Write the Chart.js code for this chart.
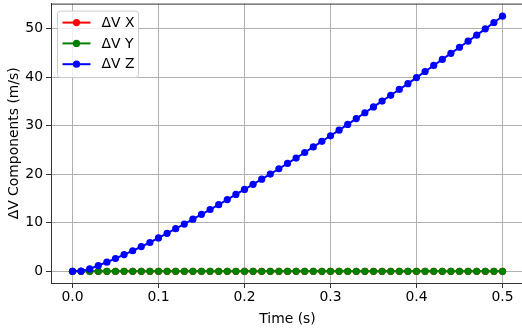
<!DOCTYPE html>
<html lang="en">
<head>
  <meta charset="UTF-8" />
  <title>ΔV Components</title>
  <style>
    html, body {
      margin: 0;
      padding: 0;
      overflow: hidden;
      background: #fff;
    }
    canvas {
      display: block;
    }
  </style>
</head>
<body>
  <canvas id="dvChart" width="530" height="329"></canvas>

  <script src="https://cdn.jsdelivr.net/npm/chart.js"></script>
  <script>
    // Time samples (s)
    const times = [
      0.00, 0.01, 0.02, 0.03, 0.04, 0.05, 0.06, 0.07, 0.08, 0.09,
      0.10, 0.11, 0.12, 0.13, 0.14, 0.15, 0.16, 0.17, 0.18, 0.19,
      0.20, 0.21, 0.22, 0.23, 0.24, 0.25, 0.26, 0.27, 0.28, 0.29,
      0.30, 0.31, 0.32, 0.33, 0.34, 0.35, 0.36, 0.37, 0.38, 0.39,
      0.40, 0.41, 0.42, 0.43, 0.44, 0.45, 0.46, 0.47, 0.48, 0.49,
      0.50
    ];

    // ΔV components (m/s)
    const dvX = [
      0, 0, 0, 0, 0, 0, 0, 0, 0, 0,
      0, 0, 0, 0, 0, 0, 0, 0, 0, 0,
      0, 0, 0, 0, 0, 0, 0, 0, 0, 0,
      0, 0, 0, 0, 0, 0, 0, 0, 0, 0,
      0, 0, 0, 0, 0, 0, 0, 0, 0, 0,
      0
    ];
    const dvY = [
      0, 0, 0, 0, 0, 0, 0, 0, 0, 0,
      0, 0, 0, 0, 0, 0, 0, 0, 0, 0,
      0, 0, 0, 0, 0, 0, 0, 0, 0, 0,
      0, 0, 0, 0, 0, 0, 0, 0, 0, 0,
      0, 0, 0, 0, 0, 0, 0, 0, 0, 0,
      0
    ];
    const dvZ = [
      0.00, 0.05, 0.50, 1.20, 1.90, 2.65, 3.45, 4.25, 5.10, 5.95,
      6.90, 7.85, 8.80, 9.75, 10.75, 11.75, 12.75, 13.75, 14.80, 15.85,
      16.90, 17.95, 19.00, 20.05, 21.15, 22.25, 23.35, 24.50, 25.65, 26.80,
      27.95, 29.10, 30.30, 31.50, 32.70, 33.90, 35.10, 36.30, 37.50, 38.70,
      39.95, 41.20, 42.45, 43.70, 44.95, 46.20, 47.45, 48.70, 50.00, 51.30,
      52.60
    ];

    const xTicks = [0, 0.1, 0.2, 0.3, 0.4, 0.5];
    const yTicks = [0, 10, 20, 30, 40, 50];

    const seriesLabels = ['ΔV X', 'ΔV Y', 'ΔV Z'];
    const seriesColors = ['#ff0000', '#008000', '#0000ff'];

    Chart.defaults.font.family = "'DejaVu Sans', sans-serif";
    Chart.defaults.font.size = 13.9;
    Chart.defaults.color = '#000';

    function toPoints(values) {
      return times.map((t, i) => ({ x: t, y: values[i] }));
    }

    function makeSet(i, values) {
      return {
        label: seriesLabels[i],
        data: toPoints(values),
        borderColor: seriesColors[i],
        backgroundColor: seriesColors[i],
        borderWidth: 2,
        pointRadius: 3.6,
        pointHoverRadius: 3.6,
        pointBorderWidth: 0,
        tension: 0,
        // Z drawn on top, X at the bottom (as in the reference)
        order: 3 - i
      };
    }

    // top spine + matplotlib-like legend box
    const frameAndLegend = {
      id: 'frameAndLegend',
      afterDraw(chart) {
        const ctx = chart.ctx;
        const a = chart.chartArea;
        ctx.save();
        ctx.strokeStyle = '#333';
        ctx.lineWidth = 1;
        ctx.beginPath();
        ctx.moveTo(a.left, a.top + 0.5);
        ctx.lineTo(a.right, a.top + 0.5);
        ctx.stroke();

        // legend
        const bx = a.left + 6.5, by = a.top + 7.5, bw = 81, bh = 66.5;
        ctx.beginPath();
        ctx.roundRect(bx, by, bw, bh, 3);
        ctx.fillStyle = 'rgba(255,255,255,0.8)';
        ctx.fill();
        ctx.strokeStyle = '#cccccc';
        ctx.stroke();

        ctx.font = "13.9px 'DejaVu Sans', sans-serif";
        ctx.textBaseline = 'middle';
        ctx.textAlign = 'left';
        chart.data.datasets.forEach((ds, i) => {
          const y = by + 11.5 + i * 20.8;
          ctx.strokeStyle = ds.borderColor;
          ctx.lineWidth = 2;
          ctx.beginPath();
          ctx.moveTo(bx + 5, y);
          ctx.lineTo(bx + 33, y);
          ctx.stroke();
          ctx.fillStyle = ds.borderColor;
          ctx.beginPath();
          ctx.arc(bx + 19, y, 3.6, 0, Math.PI * 2);
          ctx.fill();
          ctx.fillStyle = '#000';
          ctx.fillText(ds.label, bx + 44, y + 0.5);
        });
        ctx.restore();
      }
    };

    const config = {
      type: 'line',
      data: {
        datasets: [makeSet(0, dvX), makeSet(1, dvY), makeSet(2, dvZ)]
      },
      options: {
        responsive: false,
        animation: false,
        layout: {
          padding: { left: 0, top: 2, right: 6, bottom: 0 }
        },
        scales: {
          x: {
            type: 'linear',
            min: -0.025,
            max: 0.525,
            afterBuildTicks: (scale) => {
              scale.ticks = xTicks.map(v => ({ value: v }));
            },
            afterFit: (scale) => {
              scale.height = 46;
              scale.paddingLeft = 0;
              scale.paddingRight = 0;
            },
            ticks: {
              maxRotation: 0,
              padding: 1,
              callback: (v) => v.toFixed(1)
            },
            grid: {
              color: '#b0b0b0',
              lineWidth: 1,
              tickLength: 5,
              tickColor: '#333'
            },
            border: { color: '#333', width: 1 },
            title: {
              display: true,
              text: 'Time (s)',
              padding: { top: 0, bottom: 1 }
            }
          },
          y: {
            min: -2.4,
            max: 55.2,
            afterBuildTicks: (scale) => {
              scale.ticks = yTicks.map(v => ({ value: v }));
            },
            afterFit: (scale) => {
              scale.width = 51;
              scale.paddingTop = 0;
              scale.paddingBottom = 0;
            },
            ticks: {
              padding: 3
            },
            grid: {
              color: '#b0b0b0',
              lineWidth: 1,
              tickLength: 5,
              tickColor: '#333'
            },
            border: { color: '#333', width: 1 },
            title: {
              display: true,
              text: 'ΔV Components (m/s)',
              padding: { top: 6, bottom: 0 }
            }
          }
        },
        plugins: {
          legend: { display: false },
          tooltip: { enabled: false }
        }
      },
      plugins: [frameAndLegend]
    };

    new Chart(document.getElementById('dvChart'), config);
  </script>
</body>
</html>
